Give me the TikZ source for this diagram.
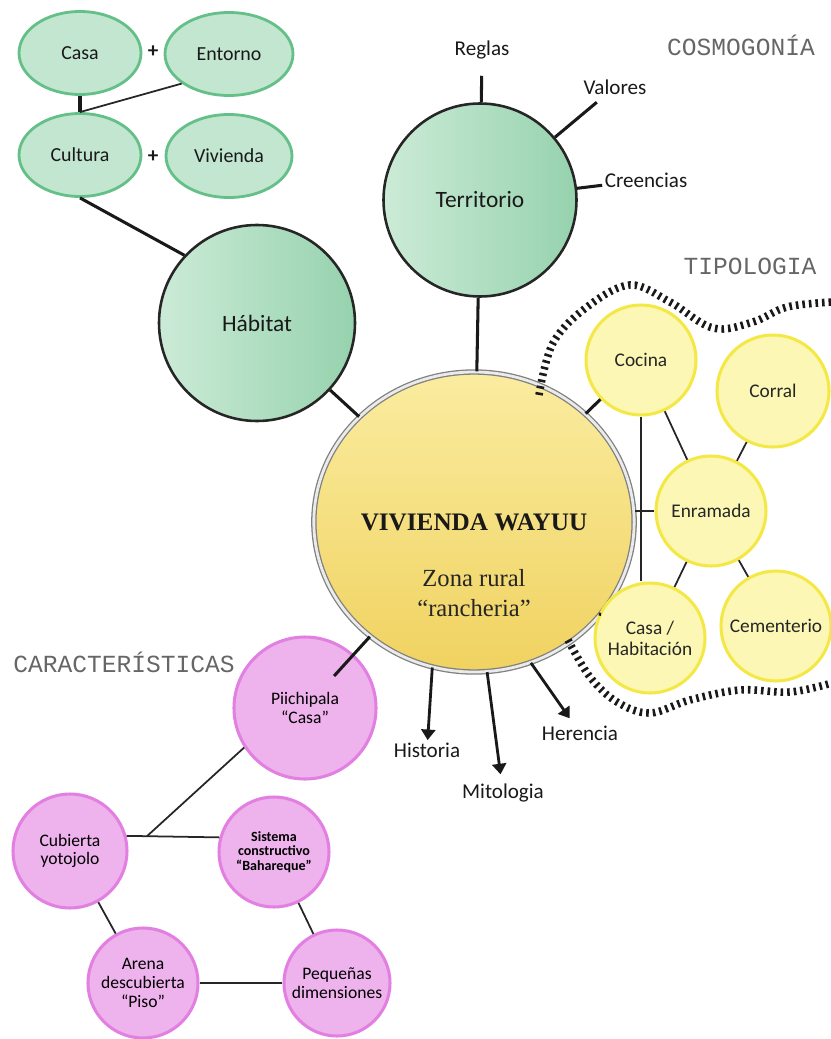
\documentclass[tikz,border=0pt]{standalone}
\usepackage{fontspec}
\setmainfont{Carlito}
\newfontfamily\headfont{Liberation Mono}
\newfontfamily\slabfont{Liberation Serif}
\usepackage{tikz}
\usetikzlibrary{arrows.meta,shapes.geometric,calc}
\definecolor{grnline}{RGB}{100,192,136}
\definecolor{grnpale}{RGB}{194,230,208}
\definecolor{grnlight}{RGB}{204,235,215}
\definecolor{grndark}{RGB}{150,210,174}
\definecolor{vivlight}{RGB}{250,236,160}
\definecolor{vivdark}{RGB}{240,210,96}
\definecolor{yelline}{RGB}{243,232,70}
\definecolor{yelfill}{RGB}{252,247,180}
\definecolor{pinkline}{RGB}{226,128,226}
\definecolor{pinkfill}{RGB}{238,178,236}
\def\pxu{0.3mm}
\tikzset{
  % green ellipse (top left group)
  gell/.style={ellipse, draw=grnline, line width=2.4pt, fill=grnpale, minimum width=#1*\pxu,
               minimum height=83*\pxu, inner sep=0pt, font=\fontsize{17}{19}\selectfont, text=black!90},
  gell/.default=122,
  % big green circle
  gbig/.style={circle, draw=black!85, line width=2.2pt, left color=grnlight, right color=grndark,
               minimum size=#1*\pxu, inner sep=0pt, font=\fontsize{20}{22}\selectfont, text=black!90},
  gbig/.default=194,
  % central node
  mainnode/.style={ellipse, draw=black!50, line width=1.1pt, double=black!8, double distance=2.4pt,
               top color=vivlight, bottom color=vivdark, minimum width=282*\pxu, minimum height=300*\pxu,
               inner sep=0pt, font=\slabfont\bfseries\fontsize{21.5}{24}\selectfont, text=black!90},
  % yellow circle (tipologia)
  ynode/.style={circle, draw=yelline, line width=2.6pt, fill=yelfill, minimum size=#1*\pxu, inner sep=0pt,
               align=center, font=\fontsize{16.5}{18}\selectfont, text=black!85},
  ynode/.default=110,
  % pink circle (caracteristicas)
  pnode/.style={circle, draw=pinkline, line width=2.6pt, fill=pinkfill, minimum size=#1*\pxu, inner sep=0pt,
               align=center, font=\fontsize{15}{16}\selectfont, text=black},
  pnode/.default=110,
  % outside labels
  lbl/.style={font=\fontsize{18}{20}\selectfont, text=black!90, inner sep=2pt},
  heading/.style={font=\headfont\fontsize{21}{23}\selectfont, text=black!60},
  plus/.style={font=\bfseries\fontsize{18}{20}\selectfont, text=black!90},
  % connectors
  link/.style={line width=2.6pt, black!90},
  thinlink/.style={line width=1.5pt, black!85},
  outarrow/.style={line width=2.4pt, black!90, -{Triangle[length=9pt,width=12pt]}},
  tipoborder/.style={line width=6.5pt, dash pattern=on 2.2pt off 3.4pt, black!90},
}

\begin{document}
\begin{tikzpicture}[x=\pxu, y=-\pxu]
  \useasboundingbox (0,0) rectangle (830,1039);

  % cosmogonia / habitat
  \node[gell] (casa) at (80,53) {Casa};
  \node[gell=128] (ent) at (229,54) {Entorno};
  \node[gell] (cult) at (80,155) {Cultura};
  \node[gell=126] (vivi) at (229,156) {Vivienda};
  \node[plus] (p1) at (153,52) {+};
  \node[plus] (p2) at (153,157) {+};
  \node[gbig=196] (hab) at (257,323) {Hábitat};
  \node[gbig=193] (terr) at (480,200) {Territorio};
  \node[lbl] (reg) at (482,50) {Reglas};
  \node[lbl] (val) at (615,87) {Valores};
  \node[lbl] (cre) at (646,180) {Creencias};
  \node[heading] (cosmo) at (741,45) {COSMOGONÍA};

  % centre
  \node[mainnode] (viv) at (474,522) {VIVIENDA WAYUU};
  \node[font=\slabfont\fontsize{21}{25.5}\selectfont, align=center, text=black!85] (zona) at (474,593)
    {Zona rural\\“rancheria”};

  % tipologia
  \node[heading] (tipo) at (750,266) {TIPOLOGIA};
  \node[ynode] (coc) at (641,360) {Cocina};
  \node[ynode=112] (cor) at (773,391) {Corral};
  \node[ynode] (enr) at (711,511) {Enramada};
  \node[ynode] (casah) at (650,638) {Casa /\\Habitación};
  \node[ynode] (cem) at (776,626) {Cementerio};
  \draw[tipoborder] plot[smooth, tension=0.6] coordinates
    {(539,395) (553,343) (587,307) (630,285) (670,302) (713,328) (753,322) (787,307) (832,302)};
  \draw[tipoborder] plot[smooth, tension=0.6] coordinates
    {(568,640) (590,677) (617,702) (650,713) (690,700) (740,690) (790,692) (832,683)};

  % caracteristicas
  \node[heading] (carac) at (124,662) {CARACTERÍSTICAS};
  \node[pnode=142] (piich) at (305,708) {Piichipala\\“Casa”};
  \node[pnode=114] (cub) at (70,851) {Cubierta\\yotojolo};
  \node[pnode, font=\bfseries\fontsize{12}{12.5}\selectfont] (sist) at (274,852)
    {Sistema\\constructivo\\“Bahareque”};
  \node[pnode] (arena) at (143,983) {Arena\\descubierta\\“Piso”};
  \node[pnode=106] (peq) at (337,983) {Pequeñas\\dimensiones};

  % bottom arrows
  \node[lbl] (hist) at (427,750) {Historia};
  \node[lbl] (mit) at (503,793) {Mitologia};
  \node[lbl] (her) at (580,733) {Herencia};

  % connectors
  \draw[link] (casa) -- (cult);
  \draw[thinlink] (cult.north) -- (ent.212);
  \draw[link] (cult.south) -- (hab.137);
  \draw[link] (hab) -- (viv);
  \draw[link] (terr) -- (viv);
  \draw[link, shorten >=12pt] (terr) -- (reg);
  \draw[link, shorten >=7pt] (terr) -- (val);
  \draw[link] (terr) -- (cre);
  \draw[link] (viv) -- (coc);
  \draw[link] (viv.-36) -- (casah.155);
  \draw[thinlink] (enr.west) -- (enr.west -| viv.east);
  \draw[thinlink] (coc.south) -- (coc.south |- casah.north);
  \draw[thinlink] (coc) -- (enr);
  \draw[thinlink] (cor) -- (enr);
  \draw[thinlink] (enr) -- (casah);
  \draw[thinlink] (enr) -- (cem);
  \draw[link, shorten >=-25pt] (viv) -- (piich);
  \draw[thinlink] (cub.15) -- (sist.165);
  \coordinate (br) at ($(cub.15)!0.22!(sist.165)$);
  \draw[thinlink] (br) -- (piich.213);
  \draw[thinlink] (cub) -- (arena);
  \draw[thinlink] (sist) -- (peq);
  \draw[thinlink] (arena) -- (peq);
  \draw[outarrow] (viv.254) -- (hist);
  \draw[outarrow, shorten >=6pt] (viv.275) -- (mit);
  \draw[outarrow, shorten >=5pt] (viv.292) -- (her);
\end{tikzpicture}
\end{document}
